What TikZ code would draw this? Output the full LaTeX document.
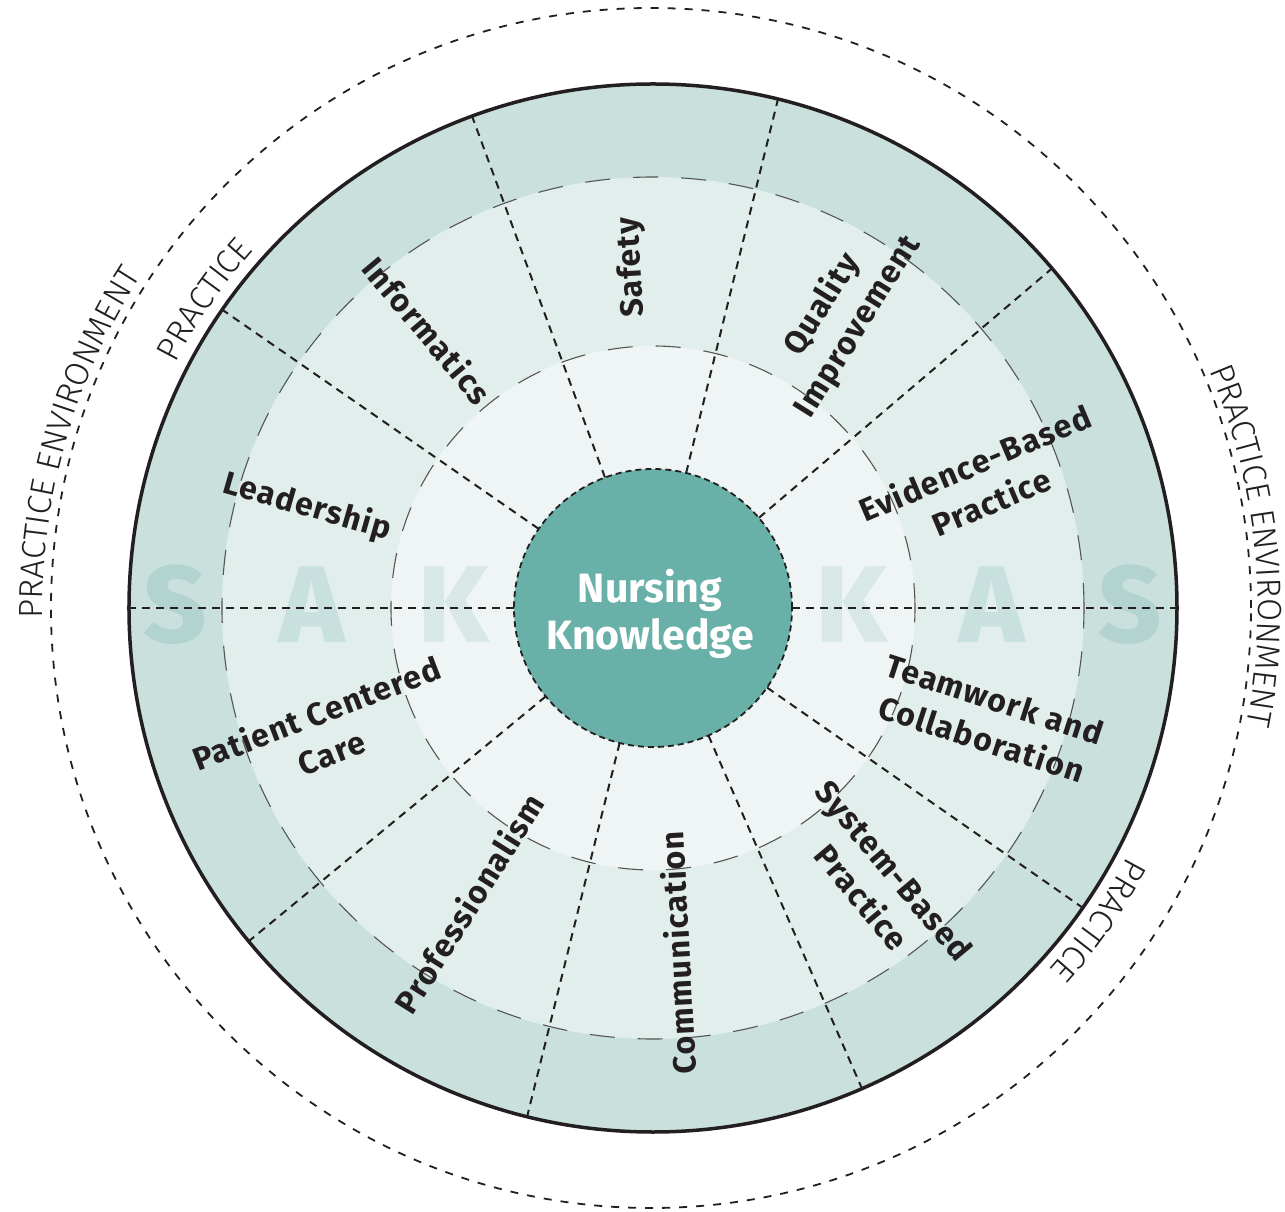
\documentclass[tikz,border=0pt]{standalone}
\usepackage{fontspec}
\usetikzlibrary{decorations.text}
\setmainfont{Fira Sans}
\newfontfamily\lblfam{Fira Sans}[LetterSpace=4]
\newfontfamily\nkfam{Fira Sans}
\IfFontExistsTF{Fira Sans Light}
  {\newfontfamily\pracfam{Fira Sans Light}}
  {\newfontfamily\pracfam{Fira Sans}}
\IfFontExistsTF{Fira Sans ExtraBold}
  {\newfontfamily\sakfam{Fira Sans ExtraBold}\def\sakwt{}}
  {\newfontfamily\sakfam{Fira Sans}\def\sakwt{\bfseries}}
\newcommand\lblfont{\lblfam\bfseries\fontsize{32}{42}\selectfont}
\newcommand\nkfont{\nkfam\bfseries\fontsize{41}{47}\selectfont}
\newcommand\pracfont{\pracfam\fontsize{33.5}{40}\selectfont}
\newcommand\sakfont{\sakfam\sakwt\fontsize{109}{120}\selectfont}
\definecolor{ringA}{HTML}{C9E0DD}
\definecolor{ringB}{HTML}{E1EEEC}
\definecolor{ringC}{HTML}{EEF5F4}
\definecolor{hub}{HTML}{69B1A8}
\definecolor{sakA}{HTML}{B3D3D0}
\definecolor{sakB}{HTML}{C9E1DE}
\definecolor{sakC}{HTML}{D7E8E6}
\definecolor{ink}{HTML}{231F20}
\definecolor{ringgray}{HTML}{555555}
\tikzset{
  spoke/.style={draw=ink, line width=2pt, dash pattern=on 8pt off 6pt},
  ringline/.style={draw=ringgray, line width=1.1pt, dash pattern=on 25pt off 23pt},
  envline/.style={draw=ink, line width=1.8pt, dash pattern=on 8pt off 9pt},
  lbl/.style={font=\lblfont, text=ink, align=center, inner sep=0pt},
  sak/.style={font=\sakfont, inner sep=0pt},
  curvetext/.style={decorate, decoration={text along path, text align=center, text color=ink, text={|\pracfont|#1}}}
}
\begin{document}
\begin{tikzpicture}[x=1pt,y=1pt]
\useasboundingbox (-653,-604) rectangle (632,608);
\fill[white] (-653,-604) rectangle (632,608);
% rings
\fill[ringA] (0,0) circle[radius=524pt];
\fill[ringB] (0,0) circle[radius=431pt];
\fill[ringC] (0,0) circle[radius=262pt];
% SAK letters
\node[sak, text=sakA] (s1) at (-478,3) {S};
\node[sak, text=sakB] (a1) at (-341,3) {A};
\node[sak, text=sakC] (k1) at (-199,3) {K};
\node[sak, text=sakC] (k2) at (199,3) {K};
\node[sak, text=sakB] (a2) at (339,3) {A};
\node[sak, text=sakA] (s2) at (477,3) {S};
% ring boundaries
\draw[ringline] (0,0) circle[radius=431pt];
\draw[ringline] (0,0) circle[radius=262pt];
% spokes
\foreach \a in {0,40.4,76.2,110.2,145.3,180,219.5,256.1,293.5,325.1}
  \draw[spoke] (\a:139pt) -- (\a:524pt);
% hub
\node[circle, fill=hub, minimum size=278pt, inner sep=0pt, draw=ink, line width=1.8pt, dash pattern=on 6pt off 4pt] (hub) at (0,0) {};
\node[font=\nkfont, text=white, align=center, inner sep=0pt] (nk) at (-3,-6) {Nursing\\Knowledge};
% outer circle
\draw[ink, line width=3.5pt] (0,0) circle[radius=524pt];
\draw[envline] (-2,0) circle[radius=600pt];
% curved texts
\path[curvetext={PRACTICE ENVIRONMENT}] (200:610pt) arc[start angle=200, end angle=128, radius=610pt];
\path[curvetext={PRACTICE ENVIRONMENT}] (42:605pt) arc[start angle=42, end angle=-30, radius=605pt];
\path[curvetext={PRACTICE}] (170:536pt) arc[start angle=170, end angle=121, radius=536pt];
\path[curvetext={PRACTICE}] (-10:536pt) arc[start angle=-10, end angle=-60, radius=536pt];
% labels
\node[lbl, rotate=93.2] (safety) at (93.5:341pt) {Safety};
\node[lbl, rotate=58] (quality) at (57.4:347pt) {Quality\\Improvement};
\node[lbl, rotate=23] (ebp) at (20.9:353pt) {Evidence-Based\\Practice};
\node[lbl, rotate=-18] (team) at (-18.3:353pt) {Teamwork and\\Collaboration};
\node[lbl, rotate=-50] (sbp) at (-50.8:356pt) {System-Based\\Practice};
\node[lbl, rotate=93] (comm) at (-86:346pt) {Communication};
\node[lbl, rotate=57.8] (prof) at (-122:348pt) {Professionalism};
\node[lbl, rotate=21] (pcc) at (-159.3:352pt) {Patient Centered\\Care};
\node[lbl, rotate=-16] (lead) at (163.7:360pt) {Leadership};
\node[lbl, rotate=-50] (info) at (129:358pt) {Informatics};
\end{tikzpicture}
\end{document}
